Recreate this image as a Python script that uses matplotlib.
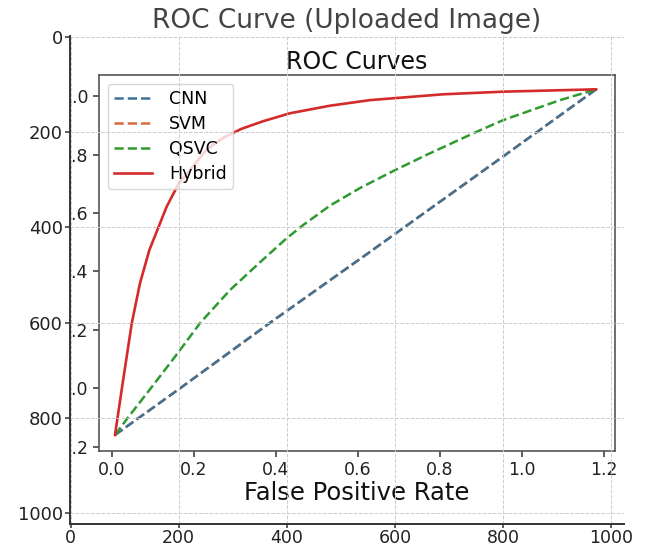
import matplotlib
matplotlib.use("Agg")
import matplotlib.pyplot as plt
from matplotlib.patches import Rectangle

# values (inner ROC chart, its own data units)
fpr_cnn = [0.008, 0.163, 0.390, 0.630, 0.956, 1.182]
tpr_cnn = [-0.160, -0.004, 0.228, 0.467, 0.795, 1.024]

fpr_svm = [0.008, 0.163, 0.390, 0.630, 0.956, 1.182]
tpr_svm = [-0.160, -0.004, 0.228, 0.467, 0.795, 1.024]

fpr_qsvc = [0.008, 0.041, 0.102, 0.163, 0.216, 0.289, 0.370, 0.427, 0.467,
            0.533, 0.606, 0.691, 0.769, 0.891, 0.956, 1.094, 1.182]
tpr_qsvc = [-0.160, -0.098, 0.012, 0.124, 0.224, 0.337, 0.442, 0.514, 0.559,
            0.626, 0.686, 0.747, 0.800, 0.879, 0.919, 0.987, 1.024]

fpr_hybrid = [0.008, 0.027, 0.049, 0.069, 0.092, 0.134, 0.163, 0.232,
              0.272, 0.317, 0.370, 0.435, 0.533, 0.630, 0.809, 0.956, 1.182]
tpr_hybrid = [-0.160, 0.020, 0.223, 0.360, 0.474, 0.622, 0.700, 0.818,
              0.858, 0.889, 0.915, 0.942, 0.968, 0.987, 1.007, 1.016, 1.024]

inner_xticks = [0.0, 0.2, 0.4, 0.6, 0.8, 1.0, 1.2]
inner_yticks = [-0.2, 0.0, 0.2, 0.4, 0.6, 0.8, 1.0]

# outer image axes (pixel coordinates)
outer_ticks = [0, 200, 400, 600, 800, 1000]

fig = plt.figure(figsize=(6.48, 5.48), dpi=100)

# the chart shown inside the "image"
ax_in = fig.add_axes([0.1528, 0.1770, 0.7963, 0.6861], zorder=0)
ax_in.plot(fpr_cnn, tpr_cnn, '--', color='#3d7396', lw=1.8, label='CNN', zorder=2.2)
ax_in.plot(fpr_svm, tpr_svm, '--', color='#d9693a', lw=1.8, label='SVM', zorder=2.0)
ax_in.plot(fpr_qsvc, tpr_qsvc, '--', color='#2f9a2f', lw=1.8, label='QSVC', zorder=2.3)
ax_in.plot(fpr_hybrid, tpr_hybrid, '-', color='#d42a2a', lw=1.9, label='Hybrid', zorder=2.4)
ax_in.set_xlim(-0.031, 1.228)
ax_in.set_ylim(-0.215, 1.073)
ax_in.set_xticks(inner_xticks)
ax_in.set_yticks(inner_yticks)
ax_in.tick_params(direction='out', length=4, width=1.1, color='#333333',
                  labelsize=12.5, labelcolor='#222222')
for s in ax_in.spines.values():
    s.set_color('#555555')
    s.set_linewidth(1.2)
ax_in.set_title('ROC Curves', fontsize=17, pad=4, color='#111111')
ax_in.set_xlabel('False Positive Rate', fontsize=17.5, color='#111111', labelpad=1)
ax_in.legend(loc='upper left', fontsize=12.5, framealpha=0.8, edgecolor='#cccccc',
             borderaxespad=0.5, borderpad=0.35, labelspacing=0.40,
             handlelength=2.2, handletextpad=1.0)

# white band that hides the part of the inner labels left of the image edge
fig.patches.append(Rectangle((0, 0.1), 0.1086, 0.85, transform=fig.transFigure,
                             facecolor='white', edgecolor='none', zorder=1))

# outer axes of the uploaded image
ax = fig.add_axes([0.1086, 0.0429, 0.8539, 0.8905], zorder=2)
ax.set_facecolor('none')
ax.set_xlim(-0.5, 1023.5)
ax.set_ylim(1023.5, -0.5)
ax.set_xticks(outer_ticks)
ax.set_yticks(outer_ticks)
ax.tick_params(direction='out', length=3.5, width=1.1, color='#333333',
               labelsize=13, labelcolor='#222222', pad=2)
ax.tick_params(axis='x', length=3, pad=0.5, labelsize=12.5)
ax.grid(True, linestyle='--', color='#cccccc', lw=0.7)
ax.spines['top'].set_visible(False)
ax.spines['right'].set_visible(False)
for side in ['left', 'bottom']:
    ax.spines[side].set_color('#333333')
    ax.spines[side].set_linewidth(1.4)
ax.set_title('ROC Curve (Uploaded Image)', fontsize=19, color='#444444', pad=6)

fig.savefig('out.png', dpi=100)
